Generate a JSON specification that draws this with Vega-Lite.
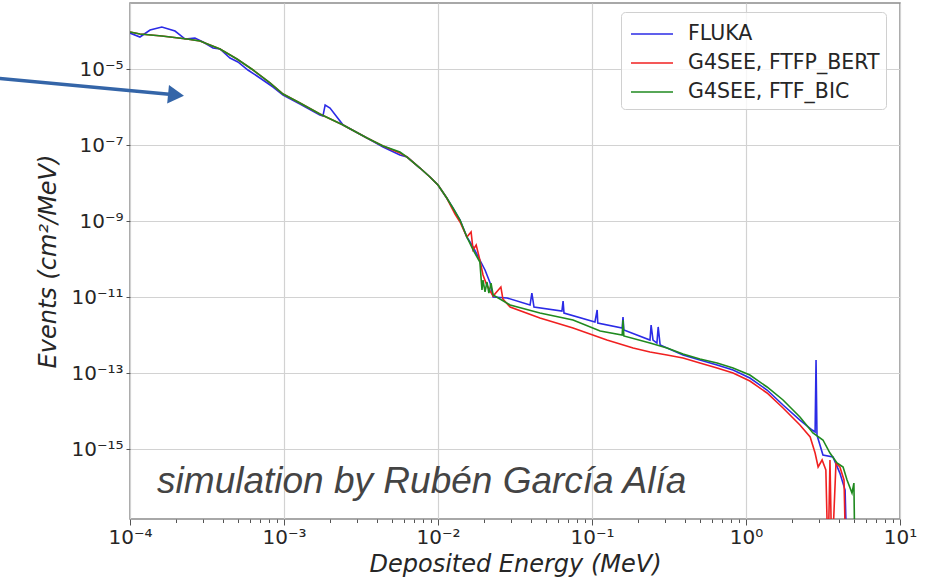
{
  "$schema": "https://vega.github.io/schema/vega-lite/v6.json",
  "autosize": {"type": "none"},
  "padding": {"left": 130, "top": 3, "right": 44, "bottom": 62},
  "width": 770,
  "height": 516,
  "background": "white",
  "config": {
    "font": "DejaVu Sans",
    "view": {"stroke": "#8c8c8c", "strokeWidth": 1.5},
    "axis": {
      "domain": false,
      "labelFont": "DejaVu Sans",
      "labelFontSize": 20,
      "labelColor": "#262626",
      "tickColor": "#555555",
      "gridColor": "#d2d2d2",
      "gridWidth": 1.2,
      "titleFont": "DejaVu Sans",
      "titleFontStyle": "italic",
      "titleFontWeight": "normal",
      "titleFontSize": 24,
      "titleColor": "#262626",
      "labelOverlap": false,
      "labelFlush": false
    }
  },
  "datasets": {
    "spectra": [
      {"code": "FLUKA", "energy": 1.00e-4, "events": 8.85e-5},
      {"code": "FLUKA", "energy": 1.16e-4, "events": 6.95e-5},
      {"code": "FLUKA", "energy": 1.35e-4, "events": 1.06e-4},
      {"code": "FLUKA", "energy": 1.61e-4, "events": 1.27e-4},
      {"code": "FLUKA", "energy": 1.96e-4, "events": 1.00e-4},
      {"code": "FLUKA", "energy": 2.28e-4, "events": 6.15e-5},
      {"code": "FLUKA", "energy": 2.64e-4, "events": 6.55e-5},
      {"code": "FLUKA", "energy": 2.98e-4, "events": 5.14e-5},
      {"code": "FLUKA", "energy": 3.46e-4, "events": 3.57e-5},
      {"code": "FLUKA", "energy": 3.84e-4, "events": 3.36e-5},
      {"code": "FLUKA", "energy": 4.46e-4, "events": 1.95e-5},
      {"code": "FLUKA", "energy": 5.02e-4, "events": 1.53e-5},
      {"code": "FLUKA", "energy": 5.83e-4, "events": 9.42e-6},
      {"code": "FLUKA", "energy": 6.98e-4, "events": 5.79e-6},
      {"code": "FLUKA", "energy": 8.49e-4, "events": 3.36e-6},
      {"code": "FLUKA", "energy": 9.86e-4, "events": 2.07e-6},
      {"code": "FLUKA", "energy": 1.27e-3, "events": 1.20e-6},
      {"code": "FLUKA", "energy": 1.71e-3, "events": 6.15e-7},
      {"code": "FLUKA", "energy": 1.79e-3, "events": 5.79e-7},
      {"code": "FLUKA", "energy": 1.85e-3, "events": 1.13e-6},
      {"code": "FLUKA", "energy": 1.99e-3, "events": 9.42e-7},
      {"code": "FLUKA", "energy": 2.42e-3, "events": 3.36e-7},
      {"code": "FLUKA", "energy": 3.46e-3, "events": 1.53e-7},
      {"code": "FLUKA", "energy": 4.40e-3, "events": 8.85e-8},
      {"code": "FLUKA", "energy": 5.66e-3, "events": 5.46e-8},
      {"code": "FLUKA", "energy": 6.30e-3, "events": 4.83e-8},
      {"code": "FLUKA", "energy": 7.64e-3, "events": 2.48e-8},
      {"code": "FLUKA", "energy": 8.87e-3, "events": 1.44e-8},
      {"code": "FLUKA", "energy": 1.00e-2, "events": 8.85e-9},
      {"code": "FLUKA", "energy": 1.14e-2, "events": 4.03e-9},
      {"code": "FLUKA", "energy": 1.25e-2, "events": 2.20e-9},
      {"code": "FLUKA", "energy": 1.39e-2, "events": 1.06e-9},
      {"code": "FLUKA", "energy": 1.54e-2, "events": 3.79e-10},
      {"code": "FLUKA", "energy": 1.69e-2, "events": 2.07e-10},
      {"code": "FLUKA", "energy": 1.87e-2, "events": 9.42e-11},
      {"code": "FLUKA", "energy": 2.02e-2, "events": 5.14e-11},
      {"code": "FLUKA", "energy": 2.18e-2, "events": 2.33e-11},
      {"code": "FLUKA", "energy": 2.28e-2, "events": 1.00e-11},
      {"code": "FLUKA", "energy": 2.81e-2, "events": 9.42e-12},
      {"code": "FLUKA", "energy": 3.96e-2, "events": 6.15e-12},
      {"code": "FLUKA", "energy": 4.07e-2, "events": 1.27e-11},
      {"code": "FLUKA", "energy": 4.20e-2, "events": 5.46e-12},
      {"code": "FLUKA", "energy": 6.38e-2, "events": 4.29e-12},
      {"code": "FLUKA", "energy": 6.49e-2, "events": 7.85e-12},
      {"code": "FLUKA", "energy": 6.58e-2, "events": 3.79e-12},
      {"code": "FLUKA", "energy": 1.045e-1, "events": 2.20e-12},
      {"code": "FLUKA", "energy": 1.08e-1, "events": 4.55e-12},
      {"code": "FLUKA", "energy": 1.09e-1, "events": 2.07e-12},
      {"code": "FLUKA", "energy": 1.57e-1, "events": 1.53e-12},
      {"code": "FLUKA", "energy": 1.59e-1, "events": 2.98e-12},
      {"code": "FLUKA", "energy": 1.61e-1, "events": 1.36e-12},
      {"code": "FLUKA", "energy": 2.38e-1, "events": 7.38e-13},
      {"code": "FLUKA", "energy": 2.42e-1, "events": 1.83e-12},
      {"code": "FLUKA", "energy": 2.49e-1, "events": 7.38e-13},
      {"code": "FLUKA", "energy": 2.64e-1, "events": 6.15e-13},
      {"code": "FLUKA", "energy": 2.69e-1, "events": 1.63e-12},
      {"code": "FLUKA", "energy": 2.77e-1, "events": 5.46e-13},
      {"code": "FLUKA", "energy": 3.90e-1, "events": 2.98e-13},
      {"code": "FLUKA", "energy": 5.02e-1, "events": 2.20e-13},
      {"code": "FLUKA", "energy": 6.49e-1, "events": 1.63e-13},
      {"code": "FLUKA", "energy": 8.24e-1, "events": 1.20e-13},
      {"code": "FLUKA", "energy": 1.06, "events": 7.38e-14},
      {"code": "FLUKA", "energy": 1.37, "events": 3.57e-14},
      {"code": "FLUKA", "energy": 1.74, "events": 1.44e-14},
      {"code": "FLUKA", "energy": 2.24, "events": 5.79e-15},
      {"code": "FLUKA", "energy": 2.69, "events": 3.16e-15},
      {"code": "FLUKA", "energy": 2.81, "events": 2.80e-15},
      {"code": "FLUKA", "energy": 2.85, "events": 2.20e-13},
      {"code": "FLUKA", "energy": 2.89, "events": 2.33e-15},
      {"code": "FLUKA", "energy": 3.16, "events": 6.95e-16},
      {"code": "FLUKA", "energy": 3.67, "events": 6.15e-16},
      {"code": "FLUKA", "energy": 4.07, "events": 2.33e-16},
      {"code": "FLUKA", "energy": 4.40, "events": 8.34e-17},
      {"code": "FLUKA", "energy": 4.53, "events": 1e-18},

      {"code": "G4SEE, FTFP_BERT", "energy": 1.00e-4, "events": 9.42e-5},
      {"code": "G4SEE, FTFP_BERT", "energy": 1.16e-4, "events": 8.34e-5},
      {"code": "G4SEE, FTFP_BERT", "energy": 1.61e-4, "events": 7.38e-5},
      {"code": "G4SEE, FTFP_BERT", "energy": 2.34e-4, "events": 6.15e-5},
      {"code": "G4SEE, FTFP_BERT", "energy": 2.85e-4, "events": 5.46e-5},
      {"code": "G4SEE, FTFP_BERT", "energy": 3.84e-4, "events": 3.36e-5},
      {"code": "G4SEE, FTFP_BERT", "energy": 4.95e-4, "events": 1.83e-5},
      {"code": "G4SEE, FTFP_BERT", "energy": 6.30e-4, "events": 9.42e-6},
      {"code": "G4SEE, FTFP_BERT", "energy": 8.11e-4, "events": 4.29e-6},
      {"code": "G4SEE, FTFP_BERT", "energy": 9.86e-4, "events": 2.20e-6},
      {"code": "G4SEE, FTFP_BERT", "energy": 1.27e-3, "events": 1.27e-6},
      {"code": "G4SEE, FTFP_BERT", "energy": 1.71e-3, "events": 6.55e-7},
      {"code": "G4SEE, FTFP_BERT", "energy": 2.42e-3, "events": 3.36e-7},
      {"code": "G4SEE, FTFP_BERT", "energy": 3.46e-3, "events": 1.53e-7},
      {"code": "G4SEE, FTFP_BERT", "energy": 4.40e-3, "events": 9.42e-8},
      {"code": "G4SEE, FTFP_BERT", "energy": 5.66e-3, "events": 6.15e-8},
      {"code": "G4SEE, FTFP_BERT", "energy": 6.30e-3, "events": 4.83e-8},
      {"code": "G4SEE, FTFP_BERT", "energy": 7.64e-3, "events": 2.48e-8},
      {"code": "G4SEE, FTFP_BERT", "energy": 8.87e-3, "events": 1.44e-8},
      {"code": "G4SEE, FTFP_BERT", "energy": 1.00e-2, "events": 8.85e-9},
      {"code": "G4SEE, FTFP_BERT", "energy": 1.14e-2, "events": 4.03e-9},
      {"code": "G4SEE, FTFP_BERT", "energy": 1.29e-2, "events": 1.53e-9},
      {"code": "G4SEE, FTFP_BERT", "energy": 1.39e-2, "events": 9.42e-10},
      {"code": "G4SEE, FTFP_BERT", "energy": 1.54e-2, "events": 3.79e-10},
      {"code": "G4SEE, FTFP_BERT", "energy": 1.64e-2, "events": 5.14e-10},
      {"code": "G4SEE, FTFP_BERT", "energy": 1.69e-2, "events": 1.73e-10},
      {"code": "G4SEE, FTFP_BERT", "energy": 1.77e-2, "events": 2.33e-10},
      {"code": "G4SEE, FTFP_BERT", "energy": 1.87e-2, "events": 9.42e-11},
      {"code": "G4SEE, FTFP_BERT", "energy": 1.96e-2, "events": 3.79e-11},
      {"code": "G4SEE, FTFP_BERT", "energy": 2.05e-2, "events": 2.33e-11},
      {"code": "G4SEE, FTFP_BERT", "energy": 2.18e-2, "events": 1.44e-11},
      {"code": "G4SEE, FTFP_BERT", "energy": 2.28e-2, "events": 1.06e-11},
      {"code": "G4SEE, FTFP_BERT", "energy": 2.56e-2, "events": 1.83e-11},
      {"code": "G4SEE, FTFP_BERT", "energy": 2.64e-2, "events": 8.85e-12},
      {"code": "G4SEE, FTFP_BERT", "energy": 2.94e-2, "events": 5.46e-12},
      {"code": "G4SEE, FTFP_BERT", "energy": 4.59e-2, "events": 2.80e-12},
      {"code": "G4SEE, FTFP_BERT", "energy": 7.53e-2, "events": 1.53e-12},
      {"code": "G4SEE, FTFP_BERT", "energy": 1.25e-1, "events": 7.38e-13},
      {"code": "G4SEE, FTFP_BERT", "energy": 1.85e-1, "events": 4.55e-13},
      {"code": "G4SEE, FTFP_BERT", "energy": 2.38e-1, "events": 3.57e-13},
      {"code": "G4SEE, FTFP_BERT", "energy": 3.07e-1, "events": 2.98e-13},
      {"code": "G4SEE, FTFP_BERT", "energy": 3.90e-1, "events": 2.48e-13},
      {"code": "G4SEE, FTFP_BERT", "energy": 5.02e-1, "events": 1.83e-13},
      {"code": "G4SEE, FTFP_BERT", "energy": 6.49e-1, "events": 1.36e-13},
      {"code": "G4SEE, FTFP_BERT", "energy": 8.24e-1, "events": 1.00e-13},
      {"code": "G4SEE, FTFP_BERT", "energy": 1.06, "events": 6.15e-14},
      {"code": "G4SEE, FTFP_BERT", "energy": 1.37, "events": 2.98e-14},
      {"code": "G4SEE, FTFP_BERT", "energy": 1.74, "events": 1.20e-14},
      {"code": "G4SEE, FTFP_BERT", "energy": 2.24, "events": 4.29e-15},
      {"code": "G4SEE, FTFP_BERT", "energy": 2.61, "events": 2.07e-15},
      {"code": "G4SEE, FTFP_BERT", "energy": 2.81, "events": 7.85e-16},
      {"code": "G4SEE, FTFP_BERT", "energy": 2.94, "events": 3.36e-16},
      {"code": "G4SEE, FTFP_BERT", "energy": 3.12, "events": 5.14e-16},
      {"code": "G4SEE, FTFP_BERT", "energy": 3.30, "events": 2.80e-16},
      {"code": "G4SEE, FTFP_BERT", "energy": 3.41, "events": 1e-18},
      {"code": "G4SEE, FTFP_BERT", "energy": 3.51, "events": 5.14e-16},
      {"code": "G4SEE, FTFP_BERT", "energy": 3.61, "events": 1e-18},
      {"code": "G4SEE, FTFP_BERT", "energy": 3.84, "events": 4.29e-16},
      {"code": "G4SEE, FTFP_BERT", "energy": 4.07, "events": 3.36e-16},
      {"code": "G4SEE, FTFP_BERT", "energy": 4.33, "events": 1.53e-16},
      {"code": "G4SEE, FTFP_BERT", "energy": 4.45, "events": 1e-18},

      {"code": "G4SEE, FTF_BIC", "energy": 1.00e-4, "events": 9.42e-5},
      {"code": "G4SEE, FTF_BIC", "energy": 1.16e-4, "events": 8.34e-5},
      {"code": "G4SEE, FTF_BIC", "energy": 1.61e-4, "events": 7.38e-5},
      {"code": "G4SEE, FTF_BIC", "energy": 2.34e-4, "events": 6.15e-5},
      {"code": "G4SEE, FTF_BIC", "energy": 2.85e-4, "events": 5.46e-5},
      {"code": "G4SEE, FTF_BIC", "energy": 3.84e-4, "events": 3.36e-5},
      {"code": "G4SEE, FTF_BIC", "energy": 4.95e-4, "events": 1.83e-5},
      {"code": "G4SEE, FTF_BIC", "energy": 6.30e-4, "events": 9.42e-6},
      {"code": "G4SEE, FTF_BIC", "energy": 8.11e-4, "events": 4.29e-6},
      {"code": "G4SEE, FTF_BIC", "energy": 9.86e-4, "events": 2.20e-6},
      {"code": "G4SEE, FTF_BIC", "energy": 1.27e-3, "events": 1.27e-6},
      {"code": "G4SEE, FTF_BIC", "energy": 1.71e-3, "events": 6.55e-7},
      {"code": "G4SEE, FTF_BIC", "energy": 2.42e-3, "events": 3.36e-7},
      {"code": "G4SEE, FTF_BIC", "energy": 3.46e-3, "events": 1.53e-7},
      {"code": "G4SEE, FTF_BIC", "energy": 4.40e-3, "events": 9.42e-8},
      {"code": "G4SEE, FTF_BIC", "energy": 5.66e-3, "events": 6.55e-8},
      {"code": "G4SEE, FTF_BIC", "energy": 6.30e-3, "events": 4.83e-8},
      {"code": "G4SEE, FTF_BIC", "energy": 7.64e-3, "events": 2.48e-8},
      {"code": "G4SEE, FTF_BIC", "energy": 8.87e-3, "events": 1.44e-8},
      {"code": "G4SEE, FTF_BIC", "energy": 1.00e-2, "events": 8.85e-9},
      {"code": "G4SEE, FTF_BIC", "energy": 1.14e-2, "events": 4.03e-9},
      {"code": "G4SEE, FTF_BIC", "energy": 1.25e-2, "events": 2.20e-9},
      {"code": "G4SEE, FTF_BIC", "energy": 1.39e-2, "events": 1.06e-9},
      {"code": "G4SEE, FTF_BIC", "energy": 1.54e-2, "events": 3.79e-10},
      {"code": "G4SEE, FTF_BIC", "energy": 1.69e-2, "events": 1.73e-10},
      {"code": "G4SEE, FTF_BIC", "energy": 1.87e-2, "events": 8.34e-11},
      {"code": "G4SEE, FTF_BIC", "energy": 1.93e-2, "events": 1.53e-11},
      {"code": "G4SEE, FTF_BIC", "energy": 1.96e-2, "events": 2.80e-11},
      {"code": "G4SEE, FTF_BIC", "energy": 2.02e-2, "events": 1.36e-11},
      {"code": "G4SEE, FTF_BIC", "energy": 2.08e-2, "events": 2.48e-11},
      {"code": "G4SEE, FTF_BIC", "energy": 2.14e-2, "events": 1.27e-11},
      {"code": "G4SEE, FTF_BIC", "energy": 2.21e-2, "events": 2.33e-11},
      {"code": "G4SEE, FTF_BIC", "energy": 2.28e-2, "events": 1.13e-11},
      {"code": "G4SEE, FTF_BIC", "energy": 2.94e-2, "events": 6.15e-12},
      {"code": "G4SEE, FTF_BIC", "energy": 4.59e-2, "events": 3.79e-12},
      {"code": "G4SEE, FTF_BIC", "energy": 7.53e-2, "events": 2.48e-12},
      {"code": "G4SEE, FTF_BIC", "energy": 1.13e-1, "events": 1.27e-12},
      {"code": "G4SEE, FTF_BIC", "energy": 1.57e-1, "events": 1.00e-12},
      {"code": "G4SEE, FTF_BIC", "energy": 1.59e-1, "events": 2.48e-12},
      {"code": "G4SEE, FTF_BIC", "energy": 1.61e-1, "events": 9.42e-13},
      {"code": "G4SEE, FTF_BIC", "energy": 2.38e-1, "events": 6.15e-13},
      {"code": "G4SEE, FTF_BIC", "energy": 3.07e-1, "events": 4.55e-13},
      {"code": "G4SEE, FTF_BIC", "energy": 3.90e-1, "events": 3.16e-13},
      {"code": "G4SEE, FTF_BIC", "energy": 5.02e-1, "events": 2.33e-13},
      {"code": "G4SEE, FTF_BIC", "energy": 6.49e-1, "events": 1.83e-13},
      {"code": "G4SEE, FTF_BIC", "energy": 8.24e-1, "events": 1.36e-13},
      {"code": "G4SEE, FTF_BIC", "energy": 1.06, "events": 8.85e-14},
      {"code": "G4SEE, FTF_BIC", "energy": 1.37, "events": 4.29e-14},
      {"code": "G4SEE, FTF_BIC", "energy": 1.74, "events": 1.95e-14},
      {"code": "G4SEE, FTF_BIC", "energy": 2.24, "events": 6.95e-15},
      {"code": "G4SEE, FTF_BIC", "energy": 2.72, "events": 2.64e-15},
      {"code": "G4SEE, FTF_BIC", "energy": 3.16, "events": 1.73e-15},
      {"code": "G4SEE, FTF_BIC", "energy": 3.51, "events": 7.85e-16},
      {"code": "G4SEE, FTF_BIC", "energy": 3.90, "events": 4.29e-16},
      {"code": "G4SEE, FTF_BIC", "energy": 4.27, "events": 3.36e-16},
      {"code": "G4SEE, FTF_BIC", "energy": 4.53, "events": 1.53e-16},
      {"code": "G4SEE, FTF_BIC", "energy": 4.88, "events": 6.95e-17},
      {"code": "G4SEE, FTF_BIC", "energy": 5.02, "events": 1.27e-16},
      {"code": "G4SEE, FTF_BIC", "energy": 5.10, "events": 1e-18}
    ],
    "arrow": [
      {"energy": 1.33e-5, "events": 5.79e-6, "energy2": 1.87e-4, "events2": 2.13e-6}
    ],
    "arrowhead": [
      {"energy": 1.99e-4, "events": 2.07e-6}
    ],
    "note": [
      {"energy": 1.50e-4, "events": 6.95e-17, "text": "simulation by Rubén García Alía"}
    ]
  },
  "layer": [
    {
      "data": {"name": "spectra"},
      "mark": {"type": "line", "strokeWidth": 1.6, "clip": true},
      "encoding": {
        "x": {
          "field": "energy",
          "type": "quantitative",
          "scale": {"type": "log", "domain": [0.0001, 10], "nice": false},
          "axis": {
            "title": "Deposited Energy (MeV)",
            "titlePadding": 5,
            "values": [0.0001, 0.0002, 0.0003, 0.0004, 0.0005, 0.0006, 0.0007, 0.0008, 0.0009,
                       0.001, 0.002, 0.003, 0.004, 0.005, 0.006, 0.007, 0.008, 0.009,
                       0.01, 0.02, 0.03, 0.04, 0.05, 0.06, 0.07, 0.08, 0.09,
                       0.1, 0.2, 0.3, 0.4, 0.5, 0.6, 0.7, 0.8, 0.9,
                       1, 2, 3, 4, 5, 6, 7, 8, 9, 10],
            "labelExpr": "datum.value == 0.0001 ? '10⁻⁴' : datum.value == 0.001 ? '10⁻³' : datum.value == 0.01 ? '10⁻²' : datum.value == 0.1 ? '10⁻¹' : datum.value == 1 ? '10⁰' : datum.value == 10 ? '10¹' : ''",
            "labelPadding": 2,
            "tickSize": {"condition": {"test": "indexof([0.0001, 0.001, 0.01, 0.1, 1, 10], datum.value) >= 0", "value": 6}, "value": 3.5},
            "gridOpacity": {"condition": {"test": "indexof([0.0001, 0.001, 0.01, 0.1, 1, 10], datum.value) >= 0", "value": 1}, "value": 0}
          }
        },
        "y": {
          "field": "events",
          "type": "quantitative",
          "scale": {"type": "log", "domain": [1.44e-17, 5.46e-4], "nice": false},
          "axis": {
            "title": "Events (cm²/MeV)",
            "titlePadding": 10,
            "values": [1e-5, 1e-7, 1e-9, 1e-11, 1e-13, 1e-15],
            "labelExpr": "datum.value == 1e-5 ? '10⁻⁵' : datum.value == 1e-7 ? '10⁻⁷' : datum.value == 1e-9 ? '10⁻⁹' : datum.value == 1e-11 ? '10⁻¹¹' : datum.value == 1e-13 ? '10⁻¹³' : '10⁻¹⁵'",
            "tickSize": 4,
            "labelPadding": 3
          }
        },
        "color": {
          "field": "code",
          "type": "nominal",
          "scale": {
            "domain": ["FLUKA", "G4SEE, FTFP_BERT", "G4SEE, FTF_BIC"],
            "range": ["#2b2be6", "#f02020", "#1f8a1f"]
          },
          "legend": {
            "orient": "none",
            "legendX": 491,
            "legendY": 9,
            "title": null,
            "symbolType": "M-1.4,0H1.4",
            "symbolSize": 900,
            "symbolStrokeWidth": 1.6,
            "symbolOffset": 9,
            "labelOffset": 20,
            "labelFont": "DejaVu Sans",
            "labelFontSize": 20.5,
            "labelColor": "#262626",
            "labelLimit": 400,
            "rowPadding": 2,
            "padding": 6,
            "strokeColor": "#d0d0d0",
            "fillColor": "rgba(255,255,255,0.8)",
            "cornerRadius": 4
          }
        }
      }
    },
    {
      "data": {"name": "arrow"},
      "mark": {"type": "rule", "clip": false, "strokeWidth": 3.5, "color": "#3465a8"},
      "encoding": {
        "x": {"field": "energy", "type": "quantitative"},
        "y": {"field": "events", "type": "quantitative"},
        "x2": {"field": "energy2"},
        "y2": {"field": "events2"}
      }
    },
    {
      "data": {"name": "arrowhead"},
      "mark": {"type": "point", "shape": "triangle-right", "filled": true, "size": 340, "angle": 5.6, "opacity": 1, "color": "#3465a8", "clip": false},
      "encoding": {
        "x": {"field": "energy", "type": "quantitative"},
        "y": {"field": "events", "type": "quantitative"}
      }
    },
    {
      "data": {"name": "note"},
      "mark": {"type": "text", "font": "Liberation Sans", "fontStyle": "italic", "fontSize": 37, "color": "#444444", "align": "left", "baseline": "alphabetic", "clip": false},
      "encoding": {
        "x": {"field": "energy", "type": "quantitative"},
        "y": {"field": "events", "type": "quantitative"},
        "text": {"field": "text"}
      }
    }
  ]
}
